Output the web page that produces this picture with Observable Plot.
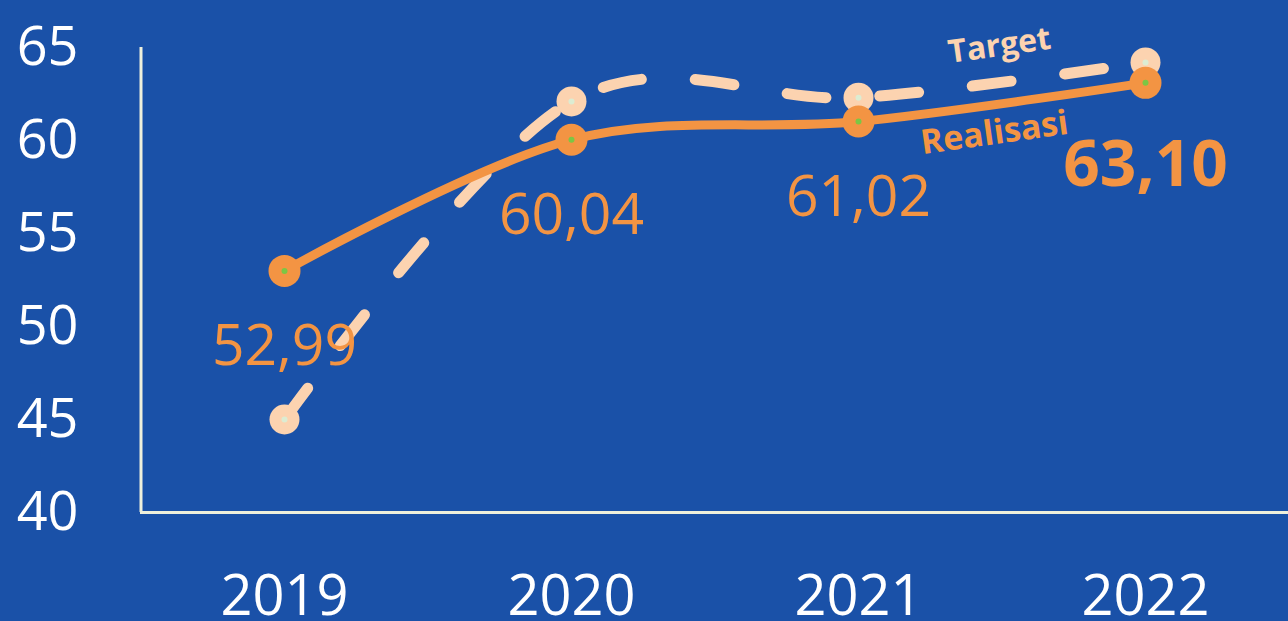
<!DOCTYPE html>
<html>
<head>
<meta charset="utf-8">
<script src="https://cdn.jsdelivr.net/npm/d3@7"></script>
<script src="https://cdn.jsdelivr.net/npm/@observablehq/plot@0.6"></script>
<style>
  html, body { margin: 0; padding: 0; background: #1a51a8; overflow: hidden; }
  #chart svg { display: block; }
</style>
</head>
<body>
<div id="chart"></div>
<script>
const years = ["2019", "2020", "2021", "2022"];
const realisasi = [52.99, 60.04, 61.02, 63.10];
const target = [45.0, 62.1, 62.3, 64.2];
const yTicks = [40, 45, 50, 55, 60, 65];
const seriesLabels = [
  {label: "Target", year: "2021", value: 65.1, color: "#fcd3b0", size: 32},
  {label: "Realisasi", year: "2021", value: 60.4, color: "#f39443", size: 34}
];

const real = years.map((y, i) => ({year: y, value: realisasi[i]}));
const targ = years.map((y, i) => ({year: y, value: target[i]}));
const fmt = v => v.toFixed(2).replace(".", ",");
const curve = d3.curveCardinal.tension(0);

const BG = "#1a51a8", ORANGE = "#f39443", PEACH = "#fcd3b0", AXIS = "#eef0dc";

const chart = Plot.plot({
  width: 1288,
  height: 621,
  marginLeft: 140,
  marginRight: 0,
  marginTop: 47,
  marginBottom: 109,
  style: {background: BG, fontFamily: "'Open Sans', sans-serif", overflow: "visible"},
  x: {type: "point", domain: years, padding: 0.5, label: null},
  y: {domain: [40, 65], label: null},
  marks: [
    Plot.axisY({ticks: yTicks, tickSize: 0, tickPadding: 62, fontSize: 54, fill: "white", textAnchor: "end", label: null}),
    Plot.axisX({tickSize: 0, tickPadding: 63, fontSize: 56, fill: "white", label: null}),
    // vertical axis line at the left edge of the plotting area
    Plot.ruleX([years[0]], {y1: 40, y2: 65, dx: -143.5, stroke: AXIS, strokeWidth: 3}),
    Plot.ruleY([40], {stroke: AXIS, strokeWidth: 3}),
    Plot.line(targ, {x: "year", y: "value", stroke: PEACH, strokeWidth: 11, strokeDasharray: "39,54", strokeLinecap: "round", curve}),
    Plot.dot(targ, {x: "year", y: "value", r: 15, fill: PEACH}),
    Plot.dot(targ, {x: "year", y: "value", r: 3, fill: "#dcecd2"}),
    Plot.line(real, {x: "year", y: "value", stroke: ORANGE, strokeWidth: 9, curve}),
    Plot.dot(real, {x: "year", y: "value", r: 16, fill: ORANGE}),
    Plot.dot(real, {x: "year", y: "value", r: 3, fill: "#7cc644"}),
    Plot.text(real.slice(0, 3), {x: "year", y: "value", text: d => fmt(d.value), dy: 76, fill: ORANGE, fontSize: 57, textAnchor: "middle"}),
    Plot.text(real.slice(3), {x: "year", y: "value", text: d => fmt(d.value), dy: 83, fill: ORANGE, fontSize: 64, fontWeight: "bold", textAnchor: "middle"}),
    Plot.text(seriesLabels.slice(0, 1), {x: "year", y: "value", text: "label", fill: "color", dx: 141, fontSize: 32, fontWeight: "bold", rotate: -8, textAnchor: "middle"}),
    Plot.text(seriesLabels.slice(1), {x: "year", y: "value", text: "label", fill: "color", dx: 136, fontSize: 34, fontWeight: "bold", rotate: -8, textAnchor: "middle"})
  ]
});

document.getElementById("chart").appendChild(chart);
</script>
</body>
</html>
